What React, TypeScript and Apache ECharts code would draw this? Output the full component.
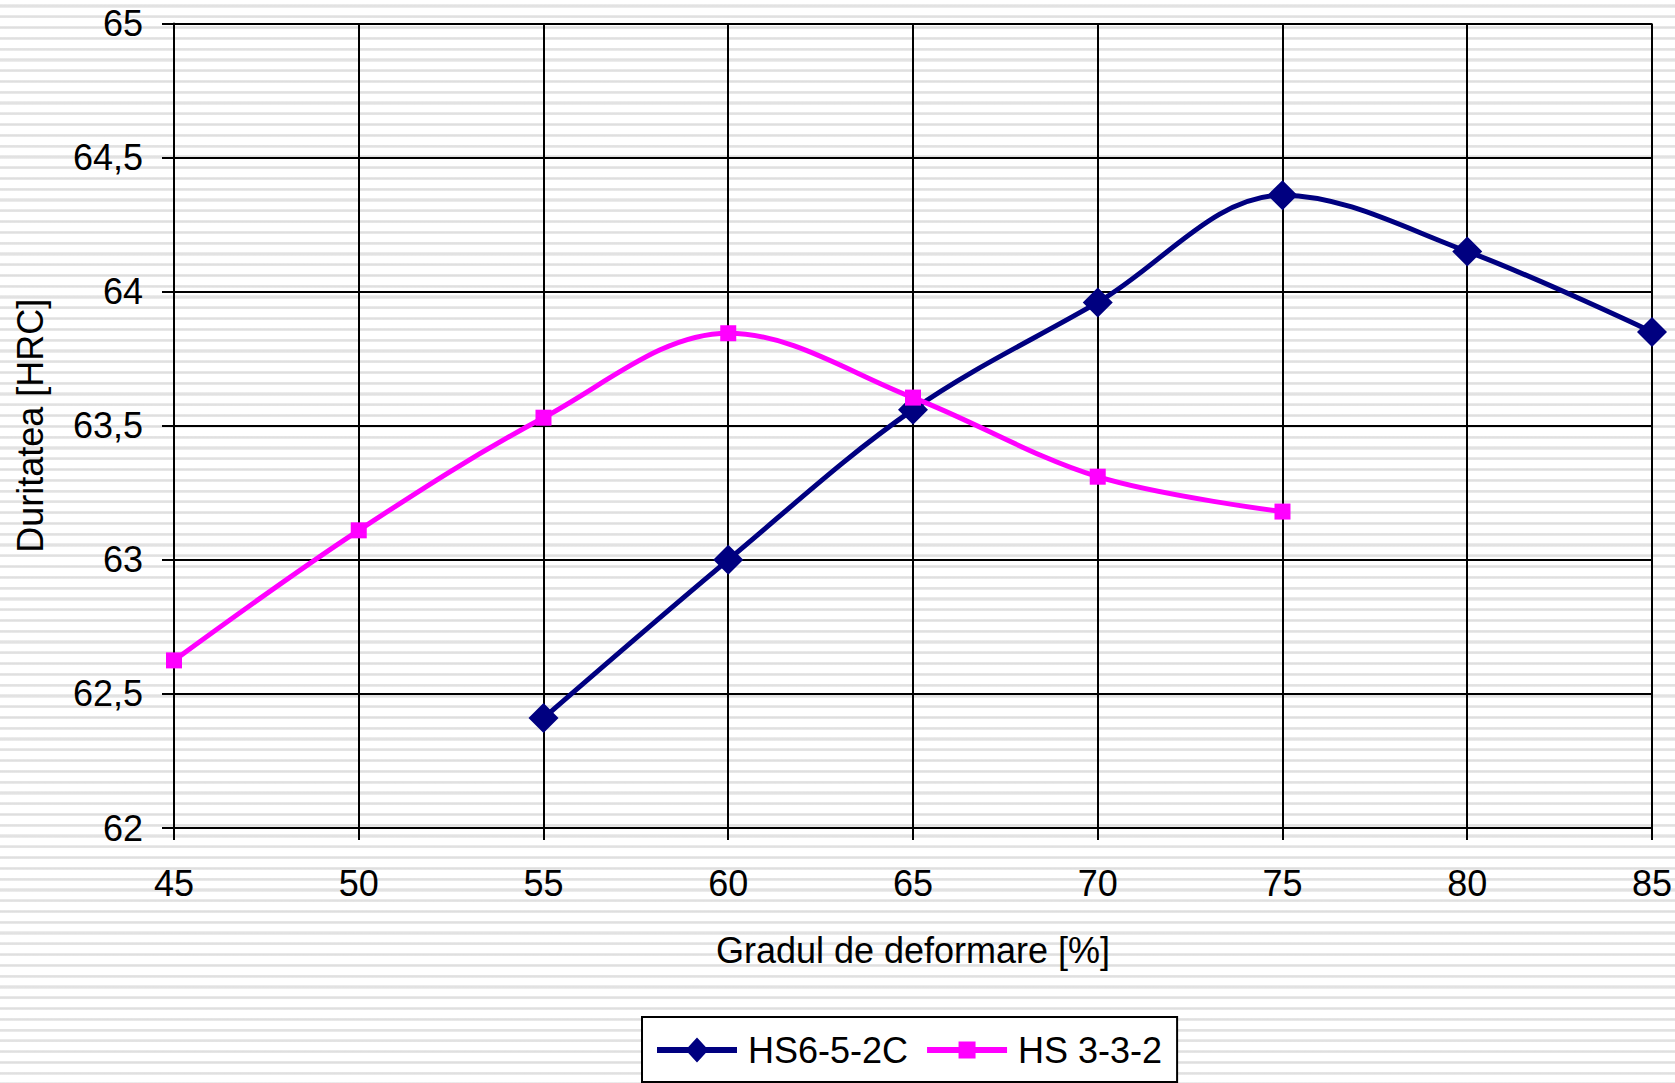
import React, { useEffect, useRef } from "react";
import * as echarts from "echarts";

const xValuesA = [55, 60, 65, 70, 75, 80, 85];
const hs652c = [62.41, 63.0, 63.56, 63.96, 64.36, 64.15, 63.85];
const xValuesB = [45, 50, 55, 60, 65, 70, 75];
const hs332 = [62.625, 63.11, 63.53, 63.845, 63.605, 63.31, 63.18];
const seriesNames = ["HS6-5-2C", "HS 3-3-2"];
const xAxisTitle = "Gradul de deformare [%]";
const yAxisTitle = "Duritatea [HRC]";

const FONT = "'Liberation Sans', Arial, sans-serif";

const ICON_DIAMOND =
  "path://M0 9.5L80 9.5L80 15.5L0 15.5Z M40 0L51.5 12.5L40 25L28.5 12.5Z";
const ICON_SQUARE =
  "path://M0 0L0.01 0L0.01 0.01Z M79.99 24.99L80 24.99L80 25Z M0 9.5L80 9.5L80 15.5L0 15.5Z M31.5 4L48.5 4L48.5 21L31.5 21Z";

export default function App() {
  const ref = useRef<HTMLDivElement>(null);
  useEffect(() => {
    if (!ref.current) return;
    const chart = echarts.init(ref.current, null, { renderer: "svg" });
    chart.setOption({
      animation: false,
      backgroundColor: "transparent",
      grid: { left: 174, right: 21, top: 23.5, bottom: 255, containLabel: false },
      xAxis: {
        type: "value",
        min: 45,
        max: 85,
        interval: 5,
        name: xAxisTitle,
        nameLocation: "middle",
        nameGap: 104,
        nameTextStyle: { fontSize: 36, color: "#000", fontFamily: FONT },
        axisLine: { show: true, lineStyle: { color: "#000", width: 2 } },
        axisTick: { show: true, length: 12, lineStyle: { color: "#000", width: 2 } },
        axisLabel: { fontSize: 36, color: "#000", fontFamily: FONT, margin: 37 },
        splitLine: { show: true, lineStyle: { color: "#000", width: 2 } },
      },
      yAxis: {
        type: "value",
        min: 62,
        max: 65,
        interval: 0.5,
        name: yAxisTitle,
        nameLocation: "middle",
        nameGap: 126,
        nameTextStyle: { fontSize: 36, color: "#000", fontFamily: FONT },
        axisLine: { show: true, lineStyle: { color: "#000", width: 2 } },
        axisTick: { show: true, length: 12, lineStyle: { color: "#000", width: 2 } },
        axisLabel: {
          fontSize: 36,
          color: "#000",
          fontFamily: FONT,
          margin: 31,
          formatter: (v: number) => String(v).replace(".", ","),
        },
        splitLine: { show: true, lineStyle: { color: "#000", width: 2 } },
      },
      legend: {
        data: [
          { name: seriesNames[0], icon: ICON_DIAMOND },
          { name: seriesNames[1], icon: ICON_SQUARE },
        ],
        left: 642,
        top: 1017,
        padding: [15, 15, 14, 15],
        itemGap: 19,
        itemWidth: 80,
        itemHeight: 25,
        symbolKeepAspect: true,
        backgroundColor: "#fff",
        borderColor: "#000",
        borderWidth: 2,
        borderRadius: 0,
        textStyle: { fontSize: 36, color: "#000", fontFamily: FONT, padding: [0, 0, 0, 6] },
      },
      series: [
        {
          name: seriesNames[0],
          type: "line",
          data: xValuesA.map((x, i) => [x, hs652c[i]]),
          smooth: 0.35,
          symbol: "diamond",
          symbolSize: 30,
          lineStyle: { color: "#000080", width: 5 },
          itemStyle: { color: "#000080" },
          z: 3,
        },
        {
          name: seriesNames[1],
          type: "line",
          data: xValuesB.map((x, i) => [x, hs332[i]]),
          smooth: 0.35,
          symbol: "rect",
          symbolSize: 16,
          lineStyle: { color: "#FF00FF", width: 5 },
          itemStyle: { color: "#FF00FF" },
          z: 4,
        },
      ],
    });
    return () => chart.dispose();
  }, []);
  return (
    <div
      style={{
        position: "absolute",
        left: 0,
        top: 0,
        width: 1675,
        height: 1083,
        backgroundImage:
          "repeating-linear-gradient(180deg, #ffffff 0px, #ffffff 4.4px, #ececec 4.4px, #dedede 6px, #ececec 7.6px, #ffffff 7.6px, #ffffff 10.78px)",
      }}
    >
      <div ref={ref} style={{ width: 1675, height: 1083 }} />
    </div>
  );
}
